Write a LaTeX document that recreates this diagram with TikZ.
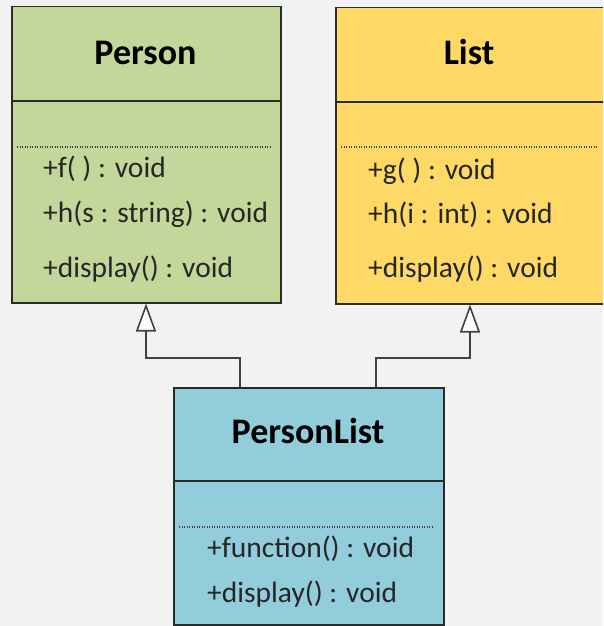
\documentclass[tikz,border=0pt]{standalone}
\usepackage{fontspec}
\setmainfont{Carlito}
\usetikzlibrary{arrows.meta}
\definecolor{bgGray}{HTML}{F2F2F2}
\definecolor{personGreen}{HTML}{C4D79B}
\definecolor{listYellow}{HTML}{FFD966}
\definecolor{plistBlue}{HTML}{92CDDC}
\definecolor{lineGray}{HTML}{2B2B2B}

\begin{document}
\begin{tikzpicture}[x=1pt, y=-1pt,
  classbox/.style={rectangle, draw=lineGray, line width=1.5pt, inner sep=0pt, anchor=north west},
  title/.style={anchor=base, inner sep=0pt, font=\fontsize{36}{40}\selectfont\bfseries},
  method/.style={anchor=base west, inner sep=0pt, text=black!85, font=\fontsize{29.5}{34}\selectfont},
  divider/.style={draw=lineGray, line width=2pt},
  dots/.style={draw=black!75, line width=1.3pt, dash pattern=on 1.3pt off 1.2pt},
  inherit/.style={draw=lineGray!90, line width=1.6pt, -{Triangle[fill=white, length=28pt, width=20pt]}}]
\useasboundingbox (0,0) rectangle (603,626);
\clip (0,0) rectangle (603,626);
\fill[bgGray] (0,0) rectangle (603,626);
% class boxes
\node[classbox, fill=personGreen, minimum width=269pt, minimum height=296pt] (person) at (11,6) {};
\node[classbox, fill=listYellow, minimum width=280pt, minimum height=296pt] (list) at (335,7) {};
\node[classbox, fill=plistBlue, minimum width=270pt, minimum height=237pt] (plist) at (173,387) {};
% Person
\node[title] (personT) at (145.5,64) {Person};
\draw[divider] (person.west |- 0,101) -- (person.east |- 0,101);
\draw[dots] (17,147) -- (272,147);
\node[method] (personF) at (43,177) {+f( ) : void};
\node[method] (personH) at (43,222) {+h(s : string) : void};
\node[method] (personD) at (43,277) {+display() : void};
% List
\node[title] (listT) at (469,65) {List};
\draw[divider] (list.west |- 0,102) -- (list.east |- 0,102);
\draw[dots] (341,147) -- (597,147);
\node[method] (listG) at (368,179) {+g( ) : void};
\node[method] (listH) at (368,223) {+h(i : int) : void};
\node[method] (listD) at (368,277) {+display() : void};
% PersonList
\node[title] (plistT) at (308,443) {PersonList};
\draw[divider] (plist.west |- 0,481) -- (plist.east |- 0,481);
\draw[dots] (179,527) -- (434,527);
\node[method] (plistF) at (207,557) {+function() : void};
\node[method] (plistD) at (207,602) {+display() : void};
% generalization
\coordinate (bendL) at (146,358);
\coordinate (bendR) at (470,358);
\draw[inherit] (plist.north -| 240,0) |- (bendL) -- (person.south -| bendL);
\draw[inherit] (plist.north -| 376,0) |- (bendR) -- (list.south -| bendR);
\end{tikzpicture}
\end{document}
